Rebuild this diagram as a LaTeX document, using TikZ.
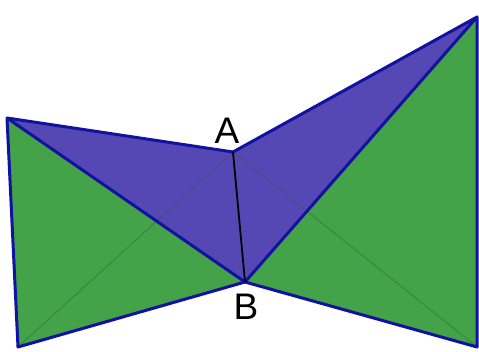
\documentclass[tikz,border=0pt]{standalone}
\usepackage{fontspec}
\setmainfont{Liberation Sans}
\usepackage{tikz}
\usetikzlibrary{
  positioning,
  calc
}
\definecolor{facegreen}{RGB}{68,163,72}
\definecolor{faceblue}{RGB}{86,72,180}
\definecolor{edgeblue}{RGB}{18,18,160}
\definecolor{hidden}{RGB}{40,90,60}

\begin{document}
\begin{tikzpicture}[x=1pt, y=-1pt,
  greenface/.style={fill=facegreen},
  blueface/.style={fill=faceblue},
  edge/.style={draw=edgeblue, line width=3pt, line join=round, line cap=round},
  hiddenedge/.style={draw=hidden, line width=1pt, opacity=0.4},
  ridge/.style={draw=black, line width=1.8pt},
  vlabel/.style={font=\fontsize{37}{42}\selectfont, inner sep=0pt}]
  \useasboundingbox (0,0) rectangle (479,352);
  \coordinate (ltop) at (7,118);
  \coordinate (lbot) at (18,347);
  \coordinate (A) at (233,152);
  \coordinate (B) at (245,282);
  \coordinate (rtop) at (477,17);
  \coordinate (rbot) at (477,347);
  % left solid
  \path[greenface] (ltop) -- (lbot) -- (B) -- cycle;
  \path[blueface] (ltop) -- (A) -- (B) -- cycle;
  \draw[hiddenedge] (lbot) -- (A);
  % right solid
  \path[blueface] (A) -- (rtop) -- (B) -- cycle;
  \path[greenface] (B) -- (rtop) -- (rbot) -- cycle;
  \draw[hiddenedge] (A) -- (rbot);
  % edges
  \draw[edge] (A) -- (ltop) -- (lbot) -- (B) -- (ltop);
  \draw[edge] (A) -- (rtop) -- (rbot) -- (B) -- (rtop);
  \draw[ridge] (A) -- (B);
  \node[vlabel] (lblA) at (227,131) {A};
  \node[vlabel] (lblB) at (246,307) {B};
\end{tikzpicture}
\end{document}
